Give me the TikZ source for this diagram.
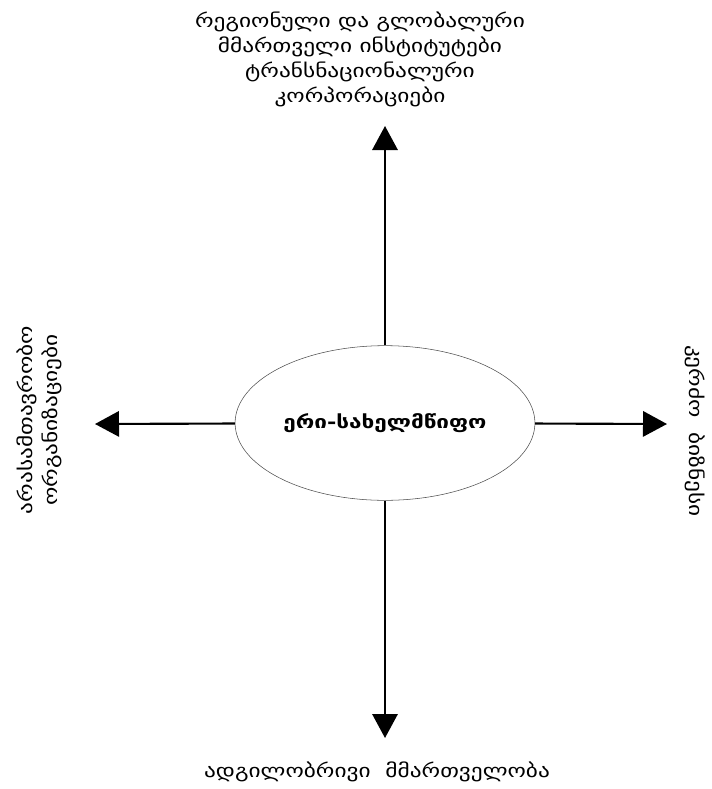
\documentclass[tikz,border=0pt]{standalone}
\usepackage{fontspec}
\setmainfont{DejaVu Sans}
\newfontfamily\geofont[FakeStretch=1.25]{DejaVu Sans}
\usetikzlibrary{shapes.geometric, arrows.meta, positioning}

\begin{document}
\begin{tikzpicture}[
    x=0.75pt, y=-0.75pt,
    state/.style={ellipse, draw=black!70, thin, minimum width=224pt, minimum height=116pt, font=\geofont\fontsize{13.5}{16}\selectfont\bfseries},
    actor/.style={align=center, font=\geofont\fontsize{14}{18.75}\selectfont},
    arrow/.style={-{Triangle[length=18pt, width=19pt]}, line width=1.6pt}
]
\useasboundingbox (0,0) rectangle (711,789);

% Centre: the state
\node[state] (nation) at (385,423) {ერი-სახელმწიფო};

% Arrow ends
\coordinate (up_end) at (385,126);
\coordinate (down_end) at (385,738);
\coordinate (left_end) at (95,424);
\coordinate (right_end) at (667,424);

% Actors around it
\node[actor] (regional) at (360,59) {რეგიონული და გლობალური\\მმართველი ინსტიტუტები\\ტრანსნაციონალური\\კორპორაციები};
\node[actor] (local) at (377,772) {ადგილობრივი\ \ მმართველობა};
\node[actor, rotate=90] (ngo) at (39,420) {არასამთავრობო\\ორგანიზაციები};
\node[actor, rotate=-90] (business) at (695,431) {კერძო\ \ ბიზნესი};

% Connectors
\draw[arrow] (nation) -- (up_end);
\draw[arrow] (nation) -- (down_end);
\draw[arrow] (nation) -- (left_end);
\draw[arrow] (nation) -- (right_end);

\end{tikzpicture}
\end{document}
